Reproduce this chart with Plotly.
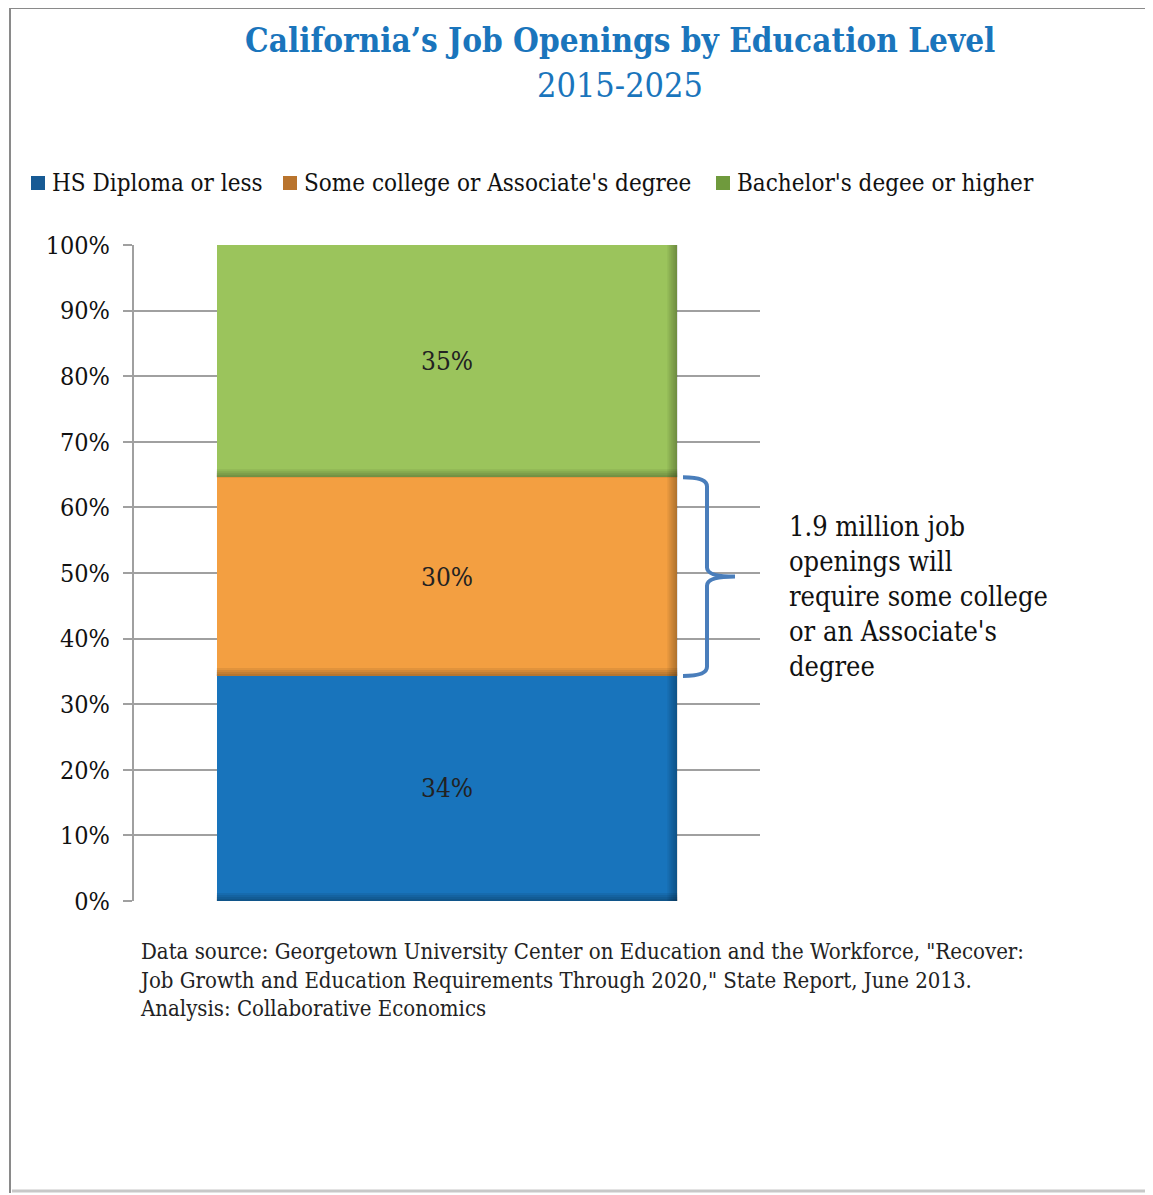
import plotly.graph_objects as go

categories = ["CA"]
series_names = ["HS Diploma or less", "Some college or Associate's degree", "Bachelor's degee or higher"]
series_values = [34.3, 30.3, 35.4]
series_labels = ["34%", "30%", "35%"]
series_colors = ["#1874bc", "#f39f41", "#9bc45c"]
legend_square_colors = ["#175a94", "#b9742d", "#6f9a3d"]
tick_vals = [0, 10, 20, 30, 40, 50, 60, 70, 80, 90, 100]
tick_text = [f"{v}%" for v in tick_vals]

title_line1 = "California\u2019s Job Openings by Education Level"
title_line2 = "2015-2025"
note_text = "1.9 million job<br>openings will<br>require some college<br>or an Associate's<br>degree"
source_text = ("Data source: Georgetown University Center on Education and the Workforce, \"Recover:<br>"
               "Job Growth and Education Requirements Through 2020,\" State Report, June 2013.<br>"
               "Analysis: Collaborative Economics")

SERIF = "DejaVu Serif Condensed, Liberation Serif, serif"

OFF = 8  # page body margin
W, H = 1153 - OFF, 1195 - OFF
L, R, T, B = 134 - OFF, 760 - OFF, 245 - OFF, 901 - OFF
BAR_W = 0.736

def px(x):
    return (x - OFF - L) / (R - L)

def py(y):
    return (B - (y - OFF)) / (B - T)

fig = go.Figure()
for name, val, lab, col in zip(series_names, series_values, series_labels, series_colors):
    fig.add_trace(go.Bar(
        x=categories, y=[val], name=name, text=[lab],
        textposition="inside", insidetextanchor="middle",
        textfont=dict(family=SERIF, size=26, color="#222222"),
        marker=dict(color=col, line=dict(width=0)),
        width=BAR_W, showlegend=False,
    ))

shapes = []

# soft bevel shading on the right and bottom edge of each segment
ux = 1.0 / (R - L)          # one pixel in x data units (category axis spans 1 unit)
uy = 100.0 / (B - T)        # one pixel in y data units
xr = BAR_W / 2
base = 0.0
for val in series_values:
    top = base + val
    for k in range(1, 6):
        shapes.append(dict(type="rect", xref="x", yref="y", layer="above",
                           x0=xr - k * 2 * ux, x1=xr, y0=base, y1=top,
                           fillcolor="rgba(0,0,0,0.06)", line=dict(width=0)))
    for k in range(1, 5):
        shapes.append(dict(type="rect", xref="x", yref="y", layer="above",
                           x0=-xr, x1=xr, y0=base, y1=base + k * 2 * uy,
                           fillcolor="rgba(0,0,0,0.07)", line=dict(width=0)))
    base = top

# bracket beside the middle segment
seg_lo = series_values[0]
seg_hi = series_values[0] + series_values[1]
mid = (seg_lo + seg_hi) / 2
x0, x1, x2 = px(683), px(707), px(735)
d = 1.4
path = (f"M {x0},{seg_hi} Q {x1},{seg_hi} {x1},{seg_hi-d} "
        f"L {x1},{mid+d} Q {x1},{mid} {x2},{mid} "
        f"Q {x1},{mid} {x1},{mid-d} L {x1},{seg_lo+d} "
        f"Q {x1},{seg_lo} {x0},{seg_lo}")
shapes.append(dict(type="path", xref="paper", yref="y", path=path,
                   line=dict(color="#4a7ebb", width=4)))

# frame
shapes += [
    dict(type="line", xref="paper", yref="paper", x0=px(10), x1=px(10), y0=py(8), y1=py(1193),
         line=dict(color="#8a8a8a", width=2)),
    dict(type="line", xref="paper", yref="paper", x0=px(10), x1=px(1160), y0=py(8), y1=py(8),
         line=dict(color="#8a8a8a", width=2)),
    dict(type="line", xref="paper", yref="paper", x0=px(12), x1=px(1160), y0=py(1191), y1=py(1191),
         line=dict(color="#c8c8c8", width=3)),
]

annotations = [
    dict(xref="paper", yref="paper", x=px(620), y=py(40), xanchor="center", yanchor="middle",
         text=f"<b>{title_line1}</b>", showarrow=False,
         font=dict(family=SERIF, size=33, color="#1a75bc")),
    dict(xref="paper", yref="paper", x=px(620), y=py(85), xanchor="center", yanchor="middle",
         text=title_line2, showarrow=False,
         font=dict(family=SERIF, size=34, color="#1a75bc")),
    dict(xref="paper", yref="paper", x=px(787), y=py(596), xanchor="left", yanchor="middle",
         align="left", text=note_text, showarrow=False,
         font=dict(family=SERIF, size=27, color="#111111")),
    dict(xref="paper", yref="paper", x=px(137), y=py(980), xanchor="left", yanchor="middle",
         align="left", text=source_text, showarrow=False,
         font=dict(family=SERIF, size=22, color="#222222")),
]

# legend row (squares + labels)
legend_x = [31, 283, 716]
for lx, name, col in zip(legend_x, series_names, legend_square_colors):
    shapes.append(dict(type="rect", xref="paper", yref="paper",
                       x0=px(lx), x1=px(lx + 14), y0=py(176), y1=py(190),
                       fillcolor=col, line=dict(width=0)))
    annotations.append(dict(xref="paper", yref="paper", x=px(lx + 19), y=py(183),
                            xanchor="left", yanchor="middle", text=name, showarrow=False,
                            font=dict(family=SERIF, size=24, color="#111111")))

fig.update_layout(
    width=W, height=H, barmode="stack",
    margin=dict(l=L, r=W - R, t=T, b=H - B, pad=0, autoexpand=False),
    paper_bgcolor="white", plot_bgcolor="white",
    showlegend=False,
    shapes=shapes, annotations=annotations,
    xaxis=dict(showticklabels=False, showgrid=False, zeroline=False, showline=False, ticks="",
               range=[-0.5, 0.5]),
    yaxis=dict(range=[0, 100], tickvals=tick_vals, ticktext=tick_text,
               showgrid=True, gridcolor="#a0a0a0", gridwidth=1.5,
               showline=True, linecolor="#a0a0a0", linewidth=2,
               ticks="outside", ticklen=9, tickcolor="#a0a0a0", tickwidth=1.5,
               ticklabelstandoff=8,
               zeroline=False,
               tickfont=dict(family=SERIF, size=25, color="#111111")),
    font=dict(family=SERIF),
)

fig.write_html("out.html")
